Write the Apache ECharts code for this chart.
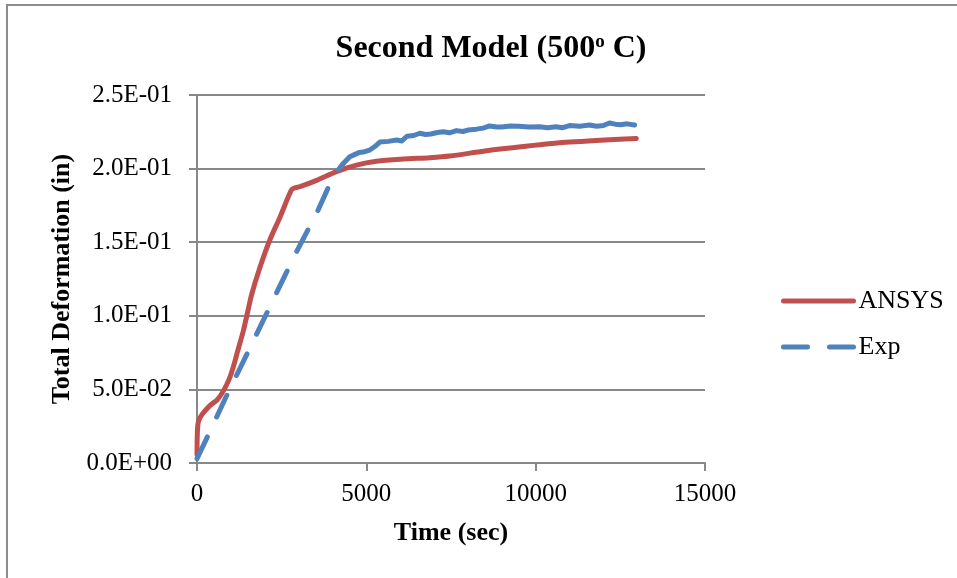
<!DOCTYPE html>
<html><head><meta charset="utf-8">
<script src="https://cdn.jsdelivr.net/npm/echarts@6/dist/echarts.min.js"></script>
<style>
html,body{margin:0;padding:0;background:#fff;}
#wrap{position:relative;width:957px;height:578px;overflow:hidden;}
#frame{position:absolute;left:6px;top:4px;width:960px;height:600px;border-left:2px solid #8c8c8c;border-top:2px solid #8c8c8c;box-sizing:border-box;}
#chart{position:absolute;left:0;top:0;width:957px;height:578px;}
</style></head>
<body><div id="wrap"><div id="frame"></div><div id="chart"></div></div>
<script>
const ansysT = [0, 10, 40, 150, 380, 600, 780, 950, 1070, 1200, 1370, 1500, 1620, 1860, 2150, 2450, 2790, 2900, 3040, 3530, 4120, 4710, 5300, 6090, 6870, 7460, 8500, 9630, 11000, 12970];
const ansysY = [0.006, 0.020, 0.028, 0.033, 0.039, 0.043, 0.049, 0.057, 0.065, 0.076, 0.090, 0.103, 0.115, 0.133, 0.1515, 0.167, 0.1855, 0.187, 0.1877, 0.192, 0.198, 0.2024, 0.205, 0.2065, 0.2074, 0.2085, 0.212, 0.215, 0.218, 0.2205];
const expT = [0, 240, 880, 1560, 2200, 2890, 3580, 4020, 4300, 4510, 4650, 4800, 4950, 5100, 5250, 5400, 5650, 5890, 6050, 6200, 6400, 6580, 6750, 6900, 7100, 7270, 7450, 7660, 7850, 8000, 8250, 8450, 8640, 8850, 9000, 9250, 9500, 9800, 10120, 10350, 10600, 10800, 11000, 11300, 11590, 11800, 12000, 12180, 12350, 12500, 12700, 12920];
const expY = [0.003, 0.0145, 0.046, 0.078, 0.1085, 0.1413, 0.172, 0.1945, 0.203, 0.208, 0.2095, 0.211, 0.2115, 0.2126, 0.215, 0.218, 0.2185, 0.2194, 0.2188, 0.222, 0.2225, 0.224, 0.2232, 0.2235, 0.2245, 0.225, 0.2243, 0.2258, 0.2252, 0.2262, 0.2268, 0.2275, 0.229, 0.2282, 0.2282, 0.229, 0.2288, 0.2282, 0.2285, 0.2278, 0.2284, 0.2278, 0.2292, 0.2288, 0.2296, 0.2288, 0.2293, 0.231, 0.2302, 0.2298, 0.2304, 0.2296];
const expSolidFrom = 8;
const seriesNames = ['ANSYS', 'Exp'];
const titleText = 'Second Model (500{sup|o} C)';
const xName = 'Time (sec)';
const yName = 'Total Deformation (in)';

function fmtExp(v){
  let s = Number(v).toExponential(1).toUpperCase();
  const m = s.match(/^(-?[\d.]+)E([+-])(\d+)$/);
  if(!m) return s;
  return m[1] + 'E' + m[2] + (m[3].length < 2 ? '0' + m[3] : m[3]);
}
const FONT = '"Liberation Serif","Times New Roman",serif';
const expPts = expT.map((t,i)=>[t, expY[i]]);
const chart = echarts.init(document.getElementById('chart'), null, {renderer:'canvas'});
chart.setOption({
  animation:false,
  backgroundColor:'transparent',
  title:{
    text:titleText, left:486, textAlign:'center', top:28,
    textStyle:{fontFamily:FONT, fontWeight:'bold', fontSize:32, color:'#000',
      rich:{sup:{fontFamily:FONT, fontWeight:'bold', fontSize:19, color:'#000', verticalAlign:'top', padding:[0,0,12,0]}}}
  },
  legend:{
    orient:'vertical', left:776, top:283, itemWidth:70, itemHeight:26, itemGap:20,
    itemStyle:{opacity:0},
    lineStyle:{width:5},
    textStyle:{fontFamily:FONT, fontSize:26, color:'#000'},
    data:seriesNames
  },
  grid:{left:197, right:252, top:95, bottom:115, containLabel:false},
  xAxis:{
    type:'value', min:0, max:15000, interval:5000,
    name:xName, nameLocation:'middle', nameGap:57,
    nameTextStyle:{fontFamily:FONT, fontWeight:'bold', fontSize:26, color:'#000'},
    axisLine:{show:true, onZero:false, lineStyle:{color:'#888', width:2}},
    axisTick:{show:true, length:8, lineStyle:{color:'#888', width:2}},
    axisLabel:{fontFamily:FONT, fontSize:25, color:'#000', margin:19, formatter:v=>String(v)},
    splitLine:{show:false}
  },
  yAxis:{
    type:'value', min:0, max:0.25, interval:0.05,
    name:yName, nameLocation:'middle', nameGap:122,
    nameTextStyle:{fontFamily:FONT, fontWeight:'bold', fontSize:26, color:'#000'},
    axisLine:{show:true, lineStyle:{color:'#888', width:2}},
    axisTick:{show:true, length:8, lineStyle:{color:'#888', width:2}},
    axisLabel:{fontFamily:FONT, fontSize:25, color:'#000', margin:25, formatter:fmtExp},
    splitLine:{show:true, lineStyle:{color:'#888', width:2}}
  },
  series:[
    {name:seriesNames[0], type:'line', showSymbol:false, symbol:'none', smooth:0.3,
     data:ansysT.map((t,i)=>[t, ansysY[i]]),
     lineStyle:{color:'#C0504D', width:5, cap:'round', join:'round'}, itemStyle:{color:'#C0504D'}, z:3},
    {name:seriesNames[1], type:'line', showSymbol:false, symbol:'none', smooth:false,
     data:expPts.slice(0, expSolidFrom + 1),
     lineStyle:{color:'#4F81BD', width:5, type:[24,22], cap:'round', join:'round'}, itemStyle:{color:'#4F81BD'}, z:4},
    {name:seriesNames[1], type:'line', showSymbol:false, symbol:'none', smooth:false,
     data:expPts.slice(expSolidFrom),
     lineStyle:{color:'#4F81BD', width:5, cap:'round', join:'round'}, itemStyle:{color:'#4F81BD'}, z:4}
  ]
});
</script></body></html>
